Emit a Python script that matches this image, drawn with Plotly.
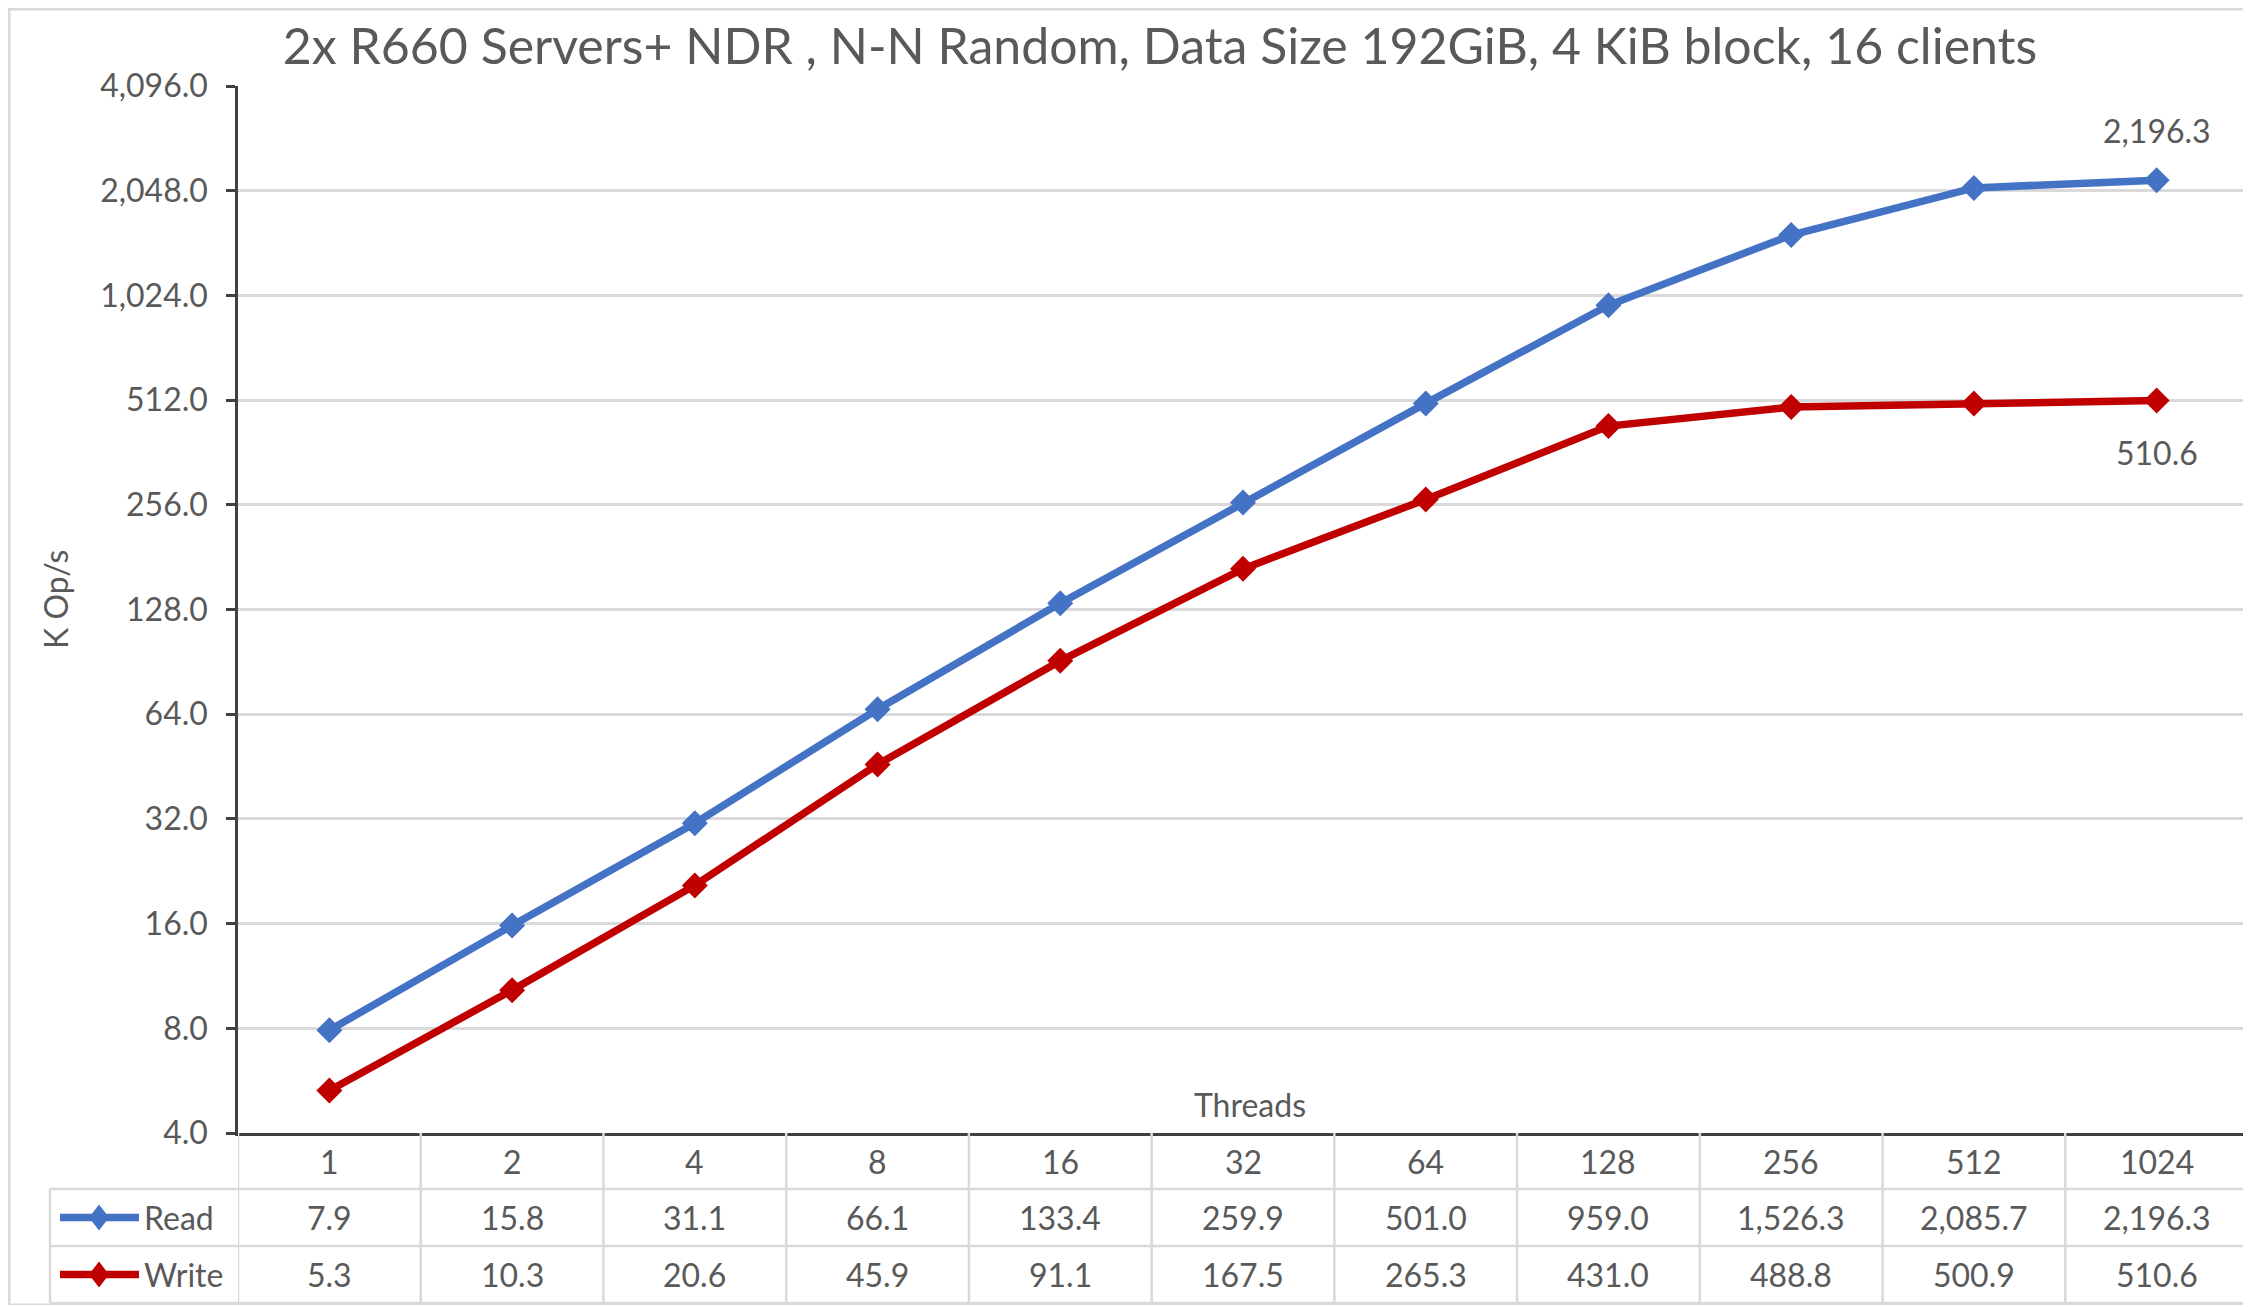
import math
import plotly.graph_objects as go

threads = ["1", "2", "4", "8", "16", "32", "64", "128", "256", "512", "1024"]
read_vals = [7.9, 15.8, 31.1, 66.1, 133.4, 259.9, 501.0, 959.0, 1526.3, 2085.7, 2196.3]
write_vals = [5.3, 10.3, 20.6, 45.9, 91.1, 167.5, 265.3, 431.0, 488.8, 500.9, 510.6]
y_ticks = [4, 8, 16, 32, 64, 128, 256, 512, 1024, 2048, 4096]
series_names = ["Read", "Write"]
title_text = "2x R660 Servers+ NDR , N-N Random, Data Size 192GiB, 4 KiB block, 16 clients"

BLUE = "#4472C4"
RED = "#C00000"
TXT = "#595959"
GRID = "#D9D9D9"
AX = "#404040"
FONT = "Lato"
FS = 32

OFF = 8  # default body margin of the html page
W, H = 2251 - OFF - 2, 1307 - OFF - 2
L, R_EDGE, T, B = 238 - OFF, 2248 - OFF, 86 - OFF, 1133 - OFF


def xp(px):
    return (px - OFF - L) / (R_EDGE - L)


def yp(py):
    return (B - (py - OFF)) / (B - T)


def fmt(v):
    return f"{v:,.1f}"


idx = list(range(len(threads)))

fig = go.Figure()
fig.add_trace(go.Scatter(x=idx, y=read_vals, name="Read", mode="lines+markers",
                         line=dict(color=BLUE, width=7.5),
                         marker=dict(symbol="diamond", size=20, color=BLUE)))
fig.add_trace(go.Scatter(x=idx, y=write_vals, name="Write", mode="lines+markers",
                         line=dict(color=RED, width=7.5),
                         marker=dict(symbol="diamond", size=20, color=RED)))

shapes = []
annotations = []

# data labels for last points (log axis: annotation y in log10 units)
annotations.append(dict(x=idx[-1], y=math.log10(read_vals[-1]), xref="x", yref="y",
                        text=fmt(read_vals[-1]), showarrow=False, yshift=50,
                        xanchor="center", yanchor="middle",
                        font=dict(family=FONT, size=FS, color=TXT)))
annotations.append(dict(x=idx[-1], y=math.log10(write_vals[-1]), xref="x", yref="y",
                        text=fmt(write_vals[-1]), showarrow=False, yshift=-52,
                        xanchor="center", yanchor="middle",
                        font=dict(family=FONT, size=FS, color=TXT)))

# "Threads" axis title inside plot
annotations.append(dict(x=xp(1250), y=yp(1104), xref="paper", yref="paper",
                        text="Threads", showarrow=False, xanchor="center", yanchor="middle",
                        font=dict(family=FONT, size=FS, color=TXT)))
# y axis title
annotations.append(dict(x=xp(55), y=yp(600), xref="paper", yref="paper",
                        text="K Op/s", showarrow=False, textangle=-90,
                        xanchor="center", yanchor="middle",
                        font=dict(family=FONT, size=FS, color=TXT)))

# table geometry (reference pixel coordinates)
row_top = 1133
row_h1 = 1189
row_h2 = 1246
row_h3 = 1303
legend_left = 50

for i in range(len(threads) + 1):
    shapes.append(dict(type="line", xref="x", yref="paper",
                       x0=i - 0.5, x1=i - 0.5, y0=yp(row_top), y1=yp(row_h3),
                       line=dict(color=GRID, width=2.5)))
shapes.append(dict(type="line", xref="paper", yref="paper",
                   x0=xp(legend_left), x1=xp(legend_left), y0=yp(row_h1), y1=yp(row_h3),
                   line=dict(color=GRID, width=2.5)))
for py in [row_h1, row_h2, row_h3]:
    shapes.append(dict(type="line", xref="paper", yref="paper",
                       x0=xp(legend_left), x1=1, y0=yp(py), y1=yp(py),
                       line=dict(color=GRID, width=2.5)))

for i, t in zip(idx, threads):
    annotations.append(dict(x=i, y=yp((row_top + row_h1) / 2), xref="x", yref="paper",
                            text=t, showarrow=False, yanchor="middle",
                            font=dict(family=FONT, size=FS, color=TXT)))
for vals, py0, py1 in [(read_vals, row_h1, row_h2), (write_vals, row_h2, row_h3)]:
    for i, v in zip(idx, vals):
        annotations.append(dict(x=i, y=yp((py0 + py1) / 2), xref="x", yref="paper",
                                text=fmt(v), showarrow=False, yanchor="middle",
                                font=dict(family=FONT, size=FS, color=TXT)))

for name, col, py0, py1 in [("Read", BLUE, row_h1, row_h2), ("Write", RED, row_h2, row_h3)]:
    cy = (py0 + py1) / 2
    shapes.append(dict(type="line", xref="paper", yref="paper",
                       x0=xp(60), x1=xp(139), y0=yp(cy), y1=yp(cy),
                       line=dict(color=col, width=7.5)))
    d = 10
    cx = 99
    path = (f"M {xp(cx - d)} {yp(cy)} L {xp(cx)} {yp(cy - d * 1.3)} "
            f"L {xp(cx + d)} {yp(cy)} L {xp(cx)} {yp(cy + d * 1.3)} Z")
    shapes.append(dict(type="path", xref="paper", yref="paper", path=path,
                       fillcolor=col, line=dict(color=col, width=0)))
    annotations.append(dict(x=xp(142), y=yp(cy), xref="paper", yref="paper",
                            text=name, showarrow=False, xanchor="left", yanchor="middle",
                            font=dict(family=FONT, size=FS, color=TXT)))

# outer chart frame
shapes.append(dict(type="rect", xref="paper", yref="paper",
                   x0=xp(OFF + 1), x1=xp(2249), y0=yp(1305), y1=yp(OFF + 1),
                   line=dict(color=GRID, width=3), fillcolor="rgba(0,0,0,0)"))

fig.update_layout(
    width=W, height=H,
    margin=dict(l=L, r=W - R_EDGE, t=T, b=H - B, autoexpand=False),
    paper_bgcolor="white", plot_bgcolor="white",
    showlegend=False,
    title=dict(text=title_text, x=(1160 - OFF) / W, xanchor="center",
               y=1 - (46 - OFF) / H, yanchor="middle",
               font=dict(family=FONT, size=50, color=TXT)),
    shapes=shapes, annotations=annotations,
)
fig.update_xaxes(range=[-0.5, len(threads) - 0.5], showticklabels=False, ticks="",
                 showgrid=False, showline=True, linecolor=AX, linewidth=2.5,
                 zeroline=False)
fig.update_yaxes(type="log", range=[0.60206, 3.61236], tickvals=y_ticks,
                 ticktext=[fmt(v) for v in y_ticks], ticks="outside", ticklen=9,
                 tickwidth=2.5, tickcolor=AX, showline=True, linecolor=AX,
                 linewidth=2.5, showgrid=True, gridcolor=GRID, gridwidth=2.5,
                 tickfont=dict(family=FONT, size=FS, color=TXT), zeroline=False,
                 ticklabelstandoff=12)

fig.write_html("out.html")
